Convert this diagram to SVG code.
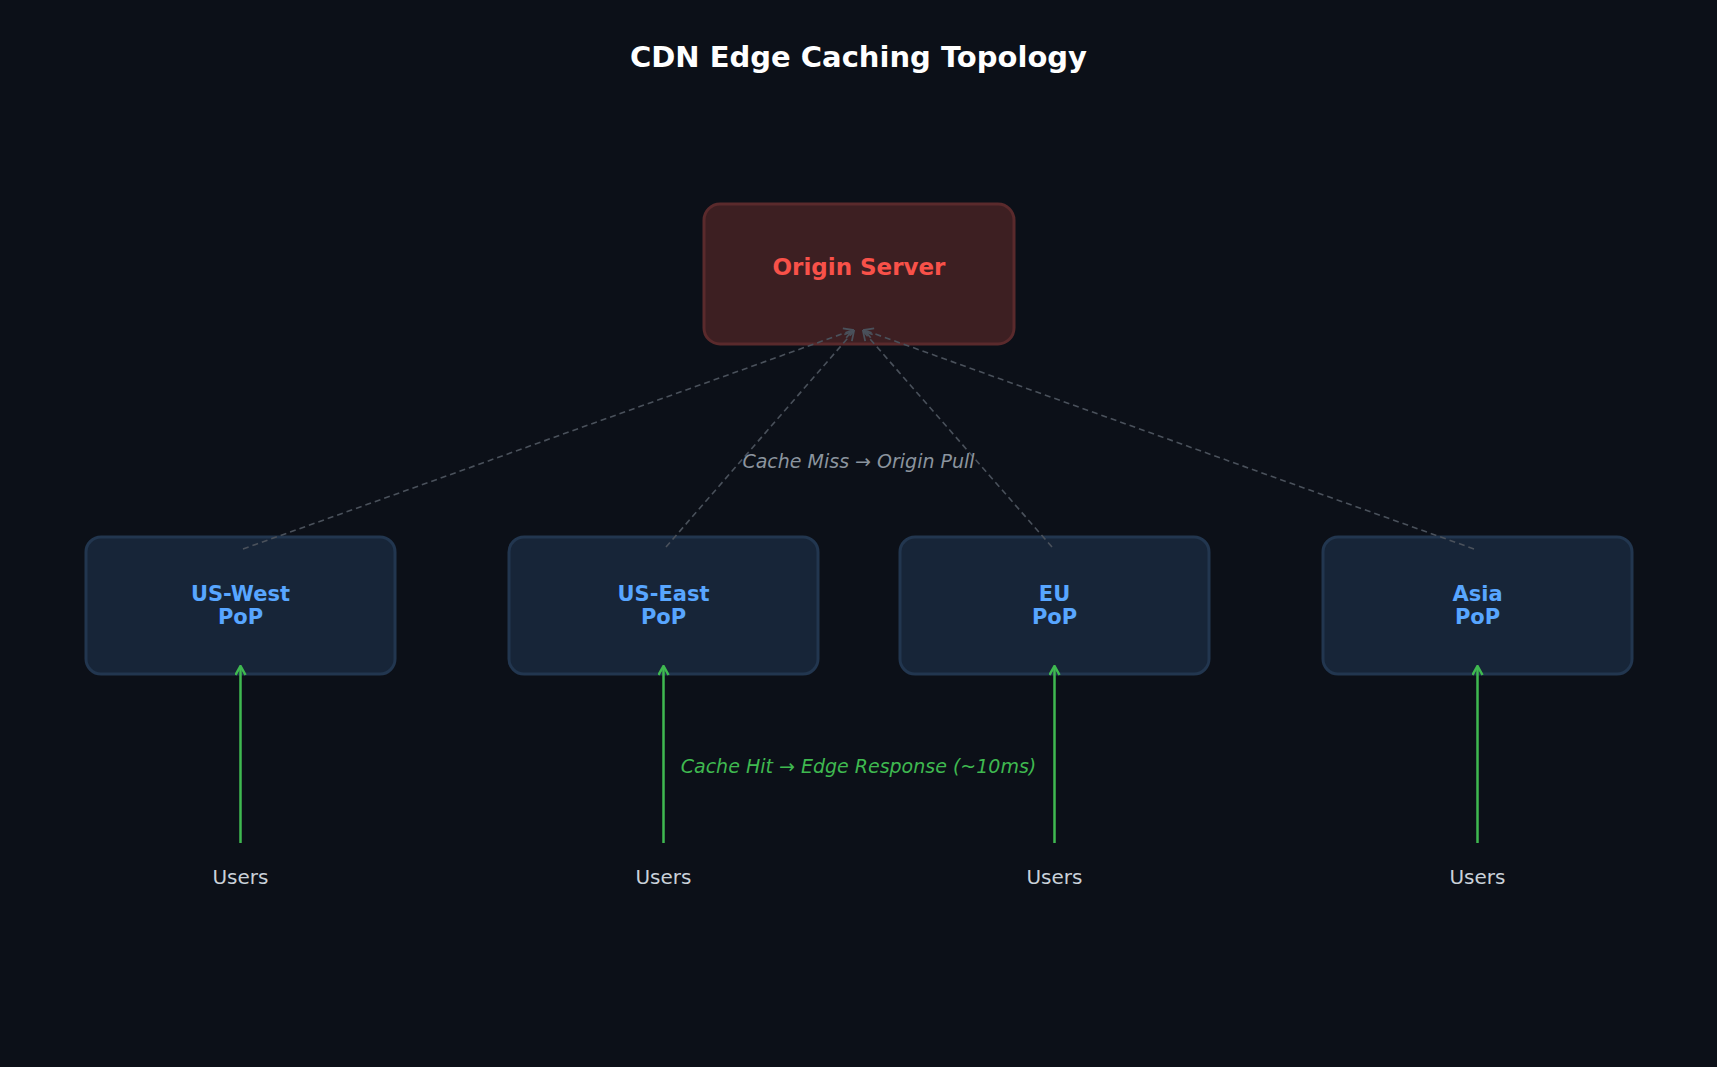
<svg xmlns="http://www.w3.org/2000/svg" width="1717" height="1067" viewBox="0 0 1717 1067">
<defs>
<style>
.title{font-family:"DejaVu Sans",sans-serif;font-size:29px;font-weight:bold;fill:#ffffff;text-anchor:middle}
.origin rect{fill:#3d1f22;stroke:#5a2a2c;stroke-width:3}
.origin text{font-family:"DejaVu Sans",sans-serif;font-size:23px;font-weight:bold;fill:#f85149;text-anchor:middle}
.pop rect{fill:#172538;stroke:#22364f;stroke-width:3}
.pop text{font-family:"DejaVu Sans",sans-serif;font-size:21px;font-weight:bold;fill:#58a6ff;text-anchor:middle}
.users{font-family:"DejaVu Sans",sans-serif;font-size:20px;fill:#c9d1d9;text-anchor:middle}
.miss{stroke:#4a515b;stroke-width:1.6;stroke-dasharray:6 4;fill:none}
.hit{stroke:#3fb950;stroke-width:2.5;fill:none}
.lbl{font-family:"DejaVu Sans",sans-serif;font-size:19px;font-style:italic;text-anchor:middle}
</style>
<marker id="mg" viewBox="0 0 12 12" refX="11" refY="6" markerWidth="12" markerHeight="12" markerUnits="userSpaceOnUse" orient="auto">
<path d="M2,1 L11,6 L2,11" fill="none" stroke="#4a515b" stroke-width="1.8"/>
</marker>
<marker id="mh" viewBox="0 0 12 12" refX="11" refY="6" markerWidth="12" markerHeight="12" markerUnits="userSpaceOnUse" orient="auto">
<path d="M2,1 L11,6 L2,11" fill="none" stroke="#3fb950" stroke-width="2.5"/>
</marker>
</defs>
<rect width="1717" height="1067" fill="#0c1018"/>
<text class="title" x="858.5" y="67">CDN Edge Caching Topology</text>
<g id="origin" class="origin">
<rect x="704" y="204" width="310" height="140" rx="16"/>
<text x="859" y="275">Origin Server</text>
</g>
<g id="uswest" class="pop">
<rect x="86" y="537" width="309" height="137" rx="15"/>
<text x="240.5" y="601">US-West</text>
<text x="240.5" y="624">PoP</text>
</g>
<g id="useast" class="pop">
<rect x="509" y="537" width="309" height="137" rx="15"/>
<text x="663.5" y="601">US-East</text>
<text x="663.5" y="624">PoP</text>
</g>
<g id="eu" class="pop">
<rect x="900" y="537" width="309" height="137" rx="15"/>
<text x="1054.5" y="601">EU</text>
<text x="1054.5" y="624">PoP</text>
</g>
<g id="asia" class="pop">
<rect x="1323" y="537" width="309" height="137" rx="15"/>
<text x="1477.5" y="601">Asia</text>
<text x="1477.5" y="624">PoP</text>
</g>
<g id="connectors">
<line class="miss" x1="243" y1="549" x2="853" y2="330" marker-end="url(#mg)"/>
<line class="miss" x1="666" y1="547" x2="854" y2="331" marker-end="url(#mg)"/>
<line class="miss" x1="1052" y1="547" x2="863" y2="331" marker-end="url(#mg)"/>
<line class="miss" x1="1474" y1="549" x2="864" y2="330" marker-end="url(#mg)"/>
<line class="hit" x1="240.5" y1="843" x2="240.5" y2="666" marker-end="url(#mh)"/>
<line class="hit" x1="663.5" y1="843" x2="663.5" y2="666" marker-end="url(#mh)"/>
<line class="hit" x1="1054.5" y1="843" x2="1054.5" y2="666" marker-end="url(#mh)"/>
<line class="hit" x1="1477.5" y1="843" x2="1477.5" y2="666" marker-end="url(#mh)"/>
</g>
<text class="lbl" x="858.5" y="468" fill="#8b949e">Cache Miss → Origin Pull</text>
<text class="lbl" x="858.5" y="773" fill="#3fb950">Cache Hit → Edge Response (~10ms)</text>
<text class="users" x="240.5" y="884">Users</text>
<text class="users" x="663.5" y="884">Users</text>
<text class="users" x="1054.5" y="884">Users</text>
<text class="users" x="1477.5" y="884">Users</text>
</svg>
